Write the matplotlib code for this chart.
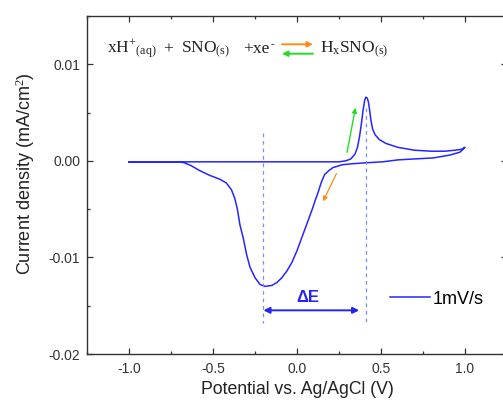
import matplotlib
matplotlib.use("Agg")
import matplotlib.pyplot as plt
from matplotlib.patches import FancyArrowPatch
from matplotlib.ticker import MultipleLocator, FormatStrFormatter

plt.rcParams['font.family'] = ['Liberation Sans', 'DejaVu Sans']
plt.rcParams['axes.unicode_minus'] = False
plt.rcParams['mathtext.fontset'] = 'custom'
plt.rcParams['mathtext.rm'] = 'Liberation Serif'
plt.rcParams['mathtext.it'] = 'Liberation Serif:italic'

# CV at 1 mV/s: anodic sweep -1.0 -> 1.0 V, then cathodic sweep back
E_anodic = [-1.0, 0.25, 0.29, 0.32, 0.345, 0.36, 0.372, 0.383, 0.393, 0.403,
            0.41, 0.418, 0.425, 0.432, 0.44, 0.45, 0.465, 0.49, 0.53, 0.6,
            0.7, 0.8, 0.88, 0.94, 0.98, 1.0]
j_anodic = [-0.0001, -0.0001, 0.0000, 0.0002, 0.0007, 0.0014, 0.0025, 0.0038, 0.0052, 0.0063,
            0.0066, 0.0065, 0.0061, 0.0053, 0.0042, 0.0033, 0.0027, 0.0022, 0.0018, 0.0014,
            0.0011, 0.0010, 0.0010, 0.0011, 0.0012, 0.0014]

E_cathodic = [1.0, 0.97, 0.91, 0.81, 0.7, 0.6, 0.51, 0.41, 0.33, 0.27,
              0.214, 0.19, 0.165, 0.145, 0.125, 0.11, 0.095, 0.07, 0.036, 0.0,
              -0.03, -0.06, -0.09, -0.12, -0.15, -0.19, -0.22, -0.25, -0.28, -0.30,
              -0.32, -0.34, -0.355, -0.37, -0.39, -0.42, -0.46, -0.52, -0.58, -0.63,
              -0.67, -0.70, -1.0]
j_cathodic = [0.0014, 0.0009, 0.0006, 0.0003, 0.0002, 0.0001, -0.0001, -0.0002, -0.0003, -0.0004,
              -0.0007, -0.0010, -0.0014, -0.0022, -0.0033, -0.0040, -0.0048, -0.0060, -0.0076, -0.0093,
              -0.0105, -0.0114, -0.0121, -0.0126, -0.0129, -0.0130, -0.0128, -0.0121, -0.0110, -0.0097,
              -0.0080, -0.0066, -0.0050, -0.0039, -0.0030, -0.0023, -0.0019, -0.0015, -0.0010, -0.0005,
              -0.0002, -0.0001, -0.0001]

E = E_anodic + E_cathodic
j = j_anodic + j_cathodic

# peak potentials
E_red = -0.20
E_ox = 0.41

fig = plt.figure(figsize=(5.03, 4.05), dpi=100)
ax = fig.add_axes([87 / 503, 51 / 405, 420 / 503, 338 / 405])

ax.plot(E, j, color='#2626ff', lw=1.1, label='1mV/s')

# peak markers + delta E
ax.plot([E_red, E_red], [0.0029, -0.0168], ls=(0, (3, 3)), color='#7f8cff', lw=0.9)
ax.plot([E_ox, E_ox], [0.0055, -0.0168], ls=(0, (3, 3)), color='#7f8cff', lw=0.9)
ax.annotate('', xy=(E_red, -0.01548), xytext=(E_ox - 0.04, -0.01548),
            arrowprops=dict(arrowstyle='<|-|>', color='#2424f0', lw=1.4, mutation_scale=9,
                            shrinkA=0, shrinkB=0))
ax.text(0.065, -0.01417, 'ΔE', color='#2424f0', fontsize=12, fontweight='bold',
        ha='center', va='center')

# sweep direction arrows
ax.annotate('', xy=(0.155, -0.0042), xytext=(0.235, -0.0013),
            arrowprops=dict(arrowstyle='-|>', color='#ff8c1a', lw=0.9, mutation_scale=7,
                            shrinkA=0, shrinkB=0))
ax.annotate('', xy=(0.348, 0.0055), xytext=(0.298, 0.0009),
            arrowprops=dict(arrowstyle='-|>', color='#22dd22', lw=1.0, mutation_scale=7,
                            shrinkA=0, shrinkB=0))

ax.set_xlim(-1.25, 1.25)
ax.set_ylim(-0.02, 0.015)
ax.xaxis.set_major_locator(MultipleLocator(0.5))
ax.xaxis.set_minor_locator(MultipleLocator(0.25))
ax.yaxis.set_major_locator(MultipleLocator(0.01))
ax.yaxis.set_minor_locator(MultipleLocator(0.005))
ax.xaxis.set_major_formatter(FormatStrFormatter('%.1f'))
ax.yaxis.set_major_formatter(FormatStrFormatter('%.2f'))
ax.tick_params(which='both', direction='in', top=True, right=True, colors='#333333',
               labelsize=10, pad=6)
ax.tick_params(which='major', length=4.5, width=0.9)
ax.tick_params(which='minor', length=2.5, width=0.9)
ax.tick_params(axis='y', which='both', pad=5)
for s in ax.spines.values():
    s.set_color('#333333')
    s.set_linewidth(1.0)

ax.set_xlabel('Potential vs. Ag/AgCl (V)', fontsize=12.7, color='#222222', labelpad=3)
ax.set_ylabel('Current density (mA/cm$^2$)', fontsize=13, color='#222222')
ax.yaxis.set_label_coords(-0.118, 0.535)

ax.legend(frameon=False, loc='center left', bbox_to_anchor=(0.7214, 0.1627), fontsize=13,
          handlelength=2.2, handletextpad=0.15, borderaxespad=0, borderpad=0)

# reaction scheme, one piece at a time
base = 1 - 53.3 / 405
scheme = [(106.7, r'$\mathrm{xH^{+}{}_{(aq)}}$'),
          (163, '+'),
          (181, r'$\mathrm{SNO_{(s)}}$'),
          (243, '+xe'),
          (320, r'$\mathrm{H_{x}SNO_{(s)}}$')]
for px, s in scheme:
    fig.text(px / 503, base, s, fontsize=12.5, va='baseline', ha='left', color='#222222',
             family='Liberation Serif')
fig.text(271 / 503, base + 6 / 405, '-', fontsize=8, va='baseline', ha='left',
         color='#222222', family='Liberation Serif')
fig.add_artist(FancyArrowPatch(
    (282 / 503, 1 - 44.3 / 405), (313 / 503, 1 - 44.3 / 405), transform=fig.transFigure,
    arrowstyle='-|>', color='#ff8c1a', lw=1.4, mutation_scale=8, shrinkA=0, shrinkB=0))
fig.add_artist(FancyArrowPatch(
    (313 / 503, 1 - 53.7 / 405), (282 / 503, 1 - 53.7 / 405), transform=fig.transFigure,
    arrowstyle='-|>', color='#22dd22', lw=1.4, mutation_scale=8, shrinkA=0, shrinkB=0))

fig.savefig('out.png', dpi=100)
